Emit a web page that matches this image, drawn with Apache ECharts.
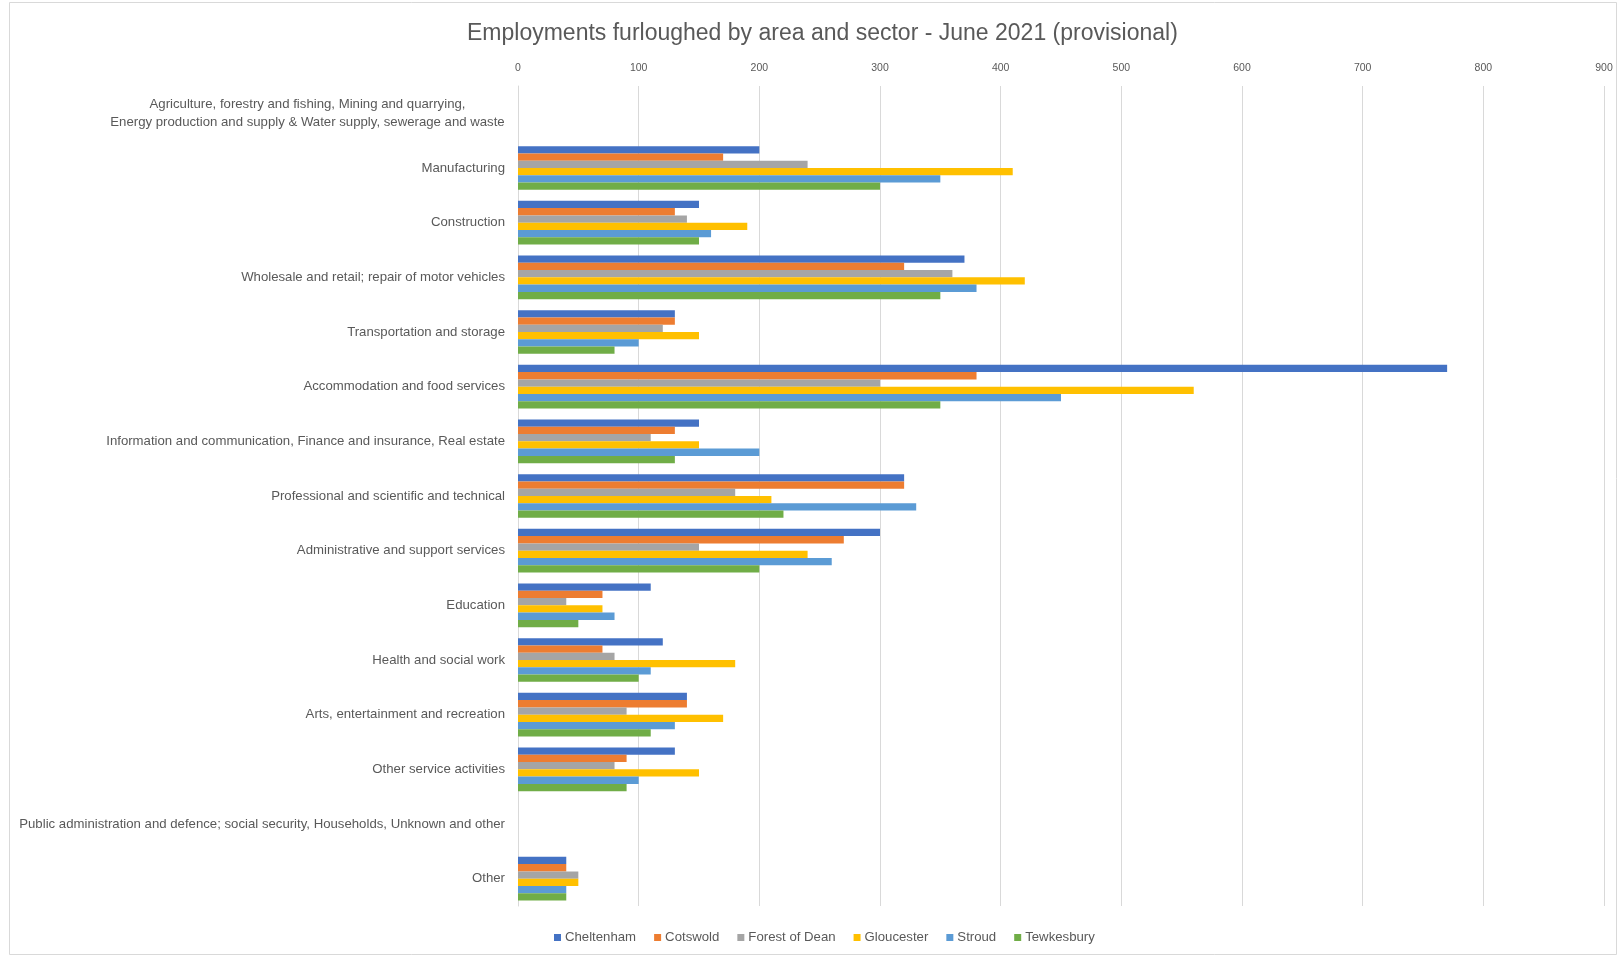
<!DOCTYPE html>
<html>
<head>
<meta charset="utf-8">
<script src="https://cdn.jsdelivr.net/npm/echarts@6/dist/echarts.min.js"></script>
<style>
html,body{margin:0;padding:0;background:#fff;}
#chart{width:1619px;height:958px;}
</style>
</head>
<body>
<div id="chart"></div>
<script>
const categories = [
  "Agriculture, forestry and fishing, Mining and quarrying,\nEnergy production and supply & Water supply, sewerage and waste",
  "Manufacturing",
  "Construction",
  "Wholesale and retail; repair of motor vehicles",
  "Transportation and storage",
  "Accommodation and food services",
  "Information and communication, Finance and insurance, Real estate",
  "Professional and scientific and technical",
  "Administrative and support services",
  "Education",
  "Health and social work",
  "Arts, entertainment and recreation",
  "Other service activities",
  "Public administration and defence; social security, Households, Unknown and other",
  "Other"
];
const seriesNames = ["Cheltenham", "Cotswold", "Forest of Dean", "Gloucester", "Stroud", "Tewkesbury"];
const cheltenham   = [null, 200, 150, 370, 130, 770, 150, 320, 300, 110, 120, 140, 130, null, 40];
const cotswold     = [null, 170, 130, 320, 130, 380, 130, 320, 270,  70,  70, 140,  90, null, 40];
const forestOfDean = [null, 240, 140, 360, 120, 300, 110, 180, 150,  40,  80,  90,  80, null, 50];
const gloucester   = [null, 410, 190, 420, 150, 560, 150, 210, 240,  70, 180, 170, 150, null, 50];
const stroud       = [null, 350, 160, 380, 100, 450, 200, 330, 260,  80, 110, 130, 100, null, 40];
const tewkesbury   = [null, 300, 150, 350,  80, 350, 130, 220, 200,  50, 100, 110,  90, null, 40];
const xTicks = [0, 100, 200, 300, 400, 500, 600, 700, 800, 900];

const colors = ["#4472C4", "#ED7D31", "#A5A5A5", "#FFC000", "#5B9BD5", "#70AD47"];
const seriesData = [cheltenham, cotswold, forestOfDean, gloucester, stroud, tewkesbury];
const FONT = "Liberation Sans";
const TXT = "#595959";
const LBL = 13.2;
const TITLE = 'Employments furloughed by area and sector - June 2021 (provisional)';

const cv = document.createElement('canvas').getContext('2d');
cv.font = LBL + "px '" + FONT + "'";
const twoLineW = Math.ceil(Math.max(...categories[0].split('\n').map(s => cv.measureText(s).width)));
cv.font = "23px '" + FONT + "'";
const titleLeft = Math.round(817 - cv.measureText(TITLE).width / 2);

const chart = echarts.init(document.getElementById('chart'));
chart.setOption({
  backgroundColor: '#fff',
  animation: false,
  color: colors,
  title: {
    text: TITLE,
    left: titleLeft,
    top: 17,
    textStyle: { fontFamily: FONT, fontSize: 23, fontWeight: 'normal', color: TXT }
  },
  graphic: [{
    type: 'rect', shape: { x: 9.5, y: 2.5, width: 1607, height: 952 },
    style: { fill: 'none', stroke: '#d9d9d9', lineWidth: 1 }, silent: true, z: -1
  }],
  legend: {
    bottom: 9,
    left: 549,
    itemWidth: 7, itemHeight: 7, itemGap: 18,
    icon: 'rect',
    textStyle: { fontFamily: FONT, fontSize: 13.2, color: TXT, padding: [0, 0, 0, -1] },
    data: seriesNames
  },
  grid: { left: 518, right: 15, top: 86, bottom: 52, containLabel: false },
  xAxis: {
    type: 'value', position: 'top', min: 0, max: 900, interval: 100,
    axisLine: { show: false }, axisTick: { show: false },
    axisLabel: { fontFamily: FONT, fontSize: 10.5, color: TXT, margin: 12,
      formatter: v => xTicks.includes(v) ? String(v) : '' },
    splitLine: { lineStyle: { color: '#d9d9d9', width: 1 } }
  },
  yAxis: {
    type: 'category', inverse: true,
    data: categories,
    axisLine: { show: true, lineStyle: { color: '#d9d9d9' } },
    axisTick: { show: false },
    axisLabel: {
      fontFamily: FONT, fontSize: LBL, color: TXT, margin: 13, interval: 0, lineHeight: 18,
      formatter: function (v) {
        if (v.indexOf('\n') >= 0) {
          return v.split('\n').map(s => '{c|' + s + '}').join('\n');
        }
        return v;
      },
      rich: { c: { width: twoLineW, align: 'center', fontFamily: FONT, fontSize: LBL, color: TXT, lineHeight: 18 } }
    }
  },
  series: seriesNames.map((n, i) => ({
    name: n, type: 'bar', data: seriesData[i],
    barGap: '0%', barCategoryGap: '20%',
    itemStyle: { color: colors[i] }
  }))
});
</script>
</body>
</html>
